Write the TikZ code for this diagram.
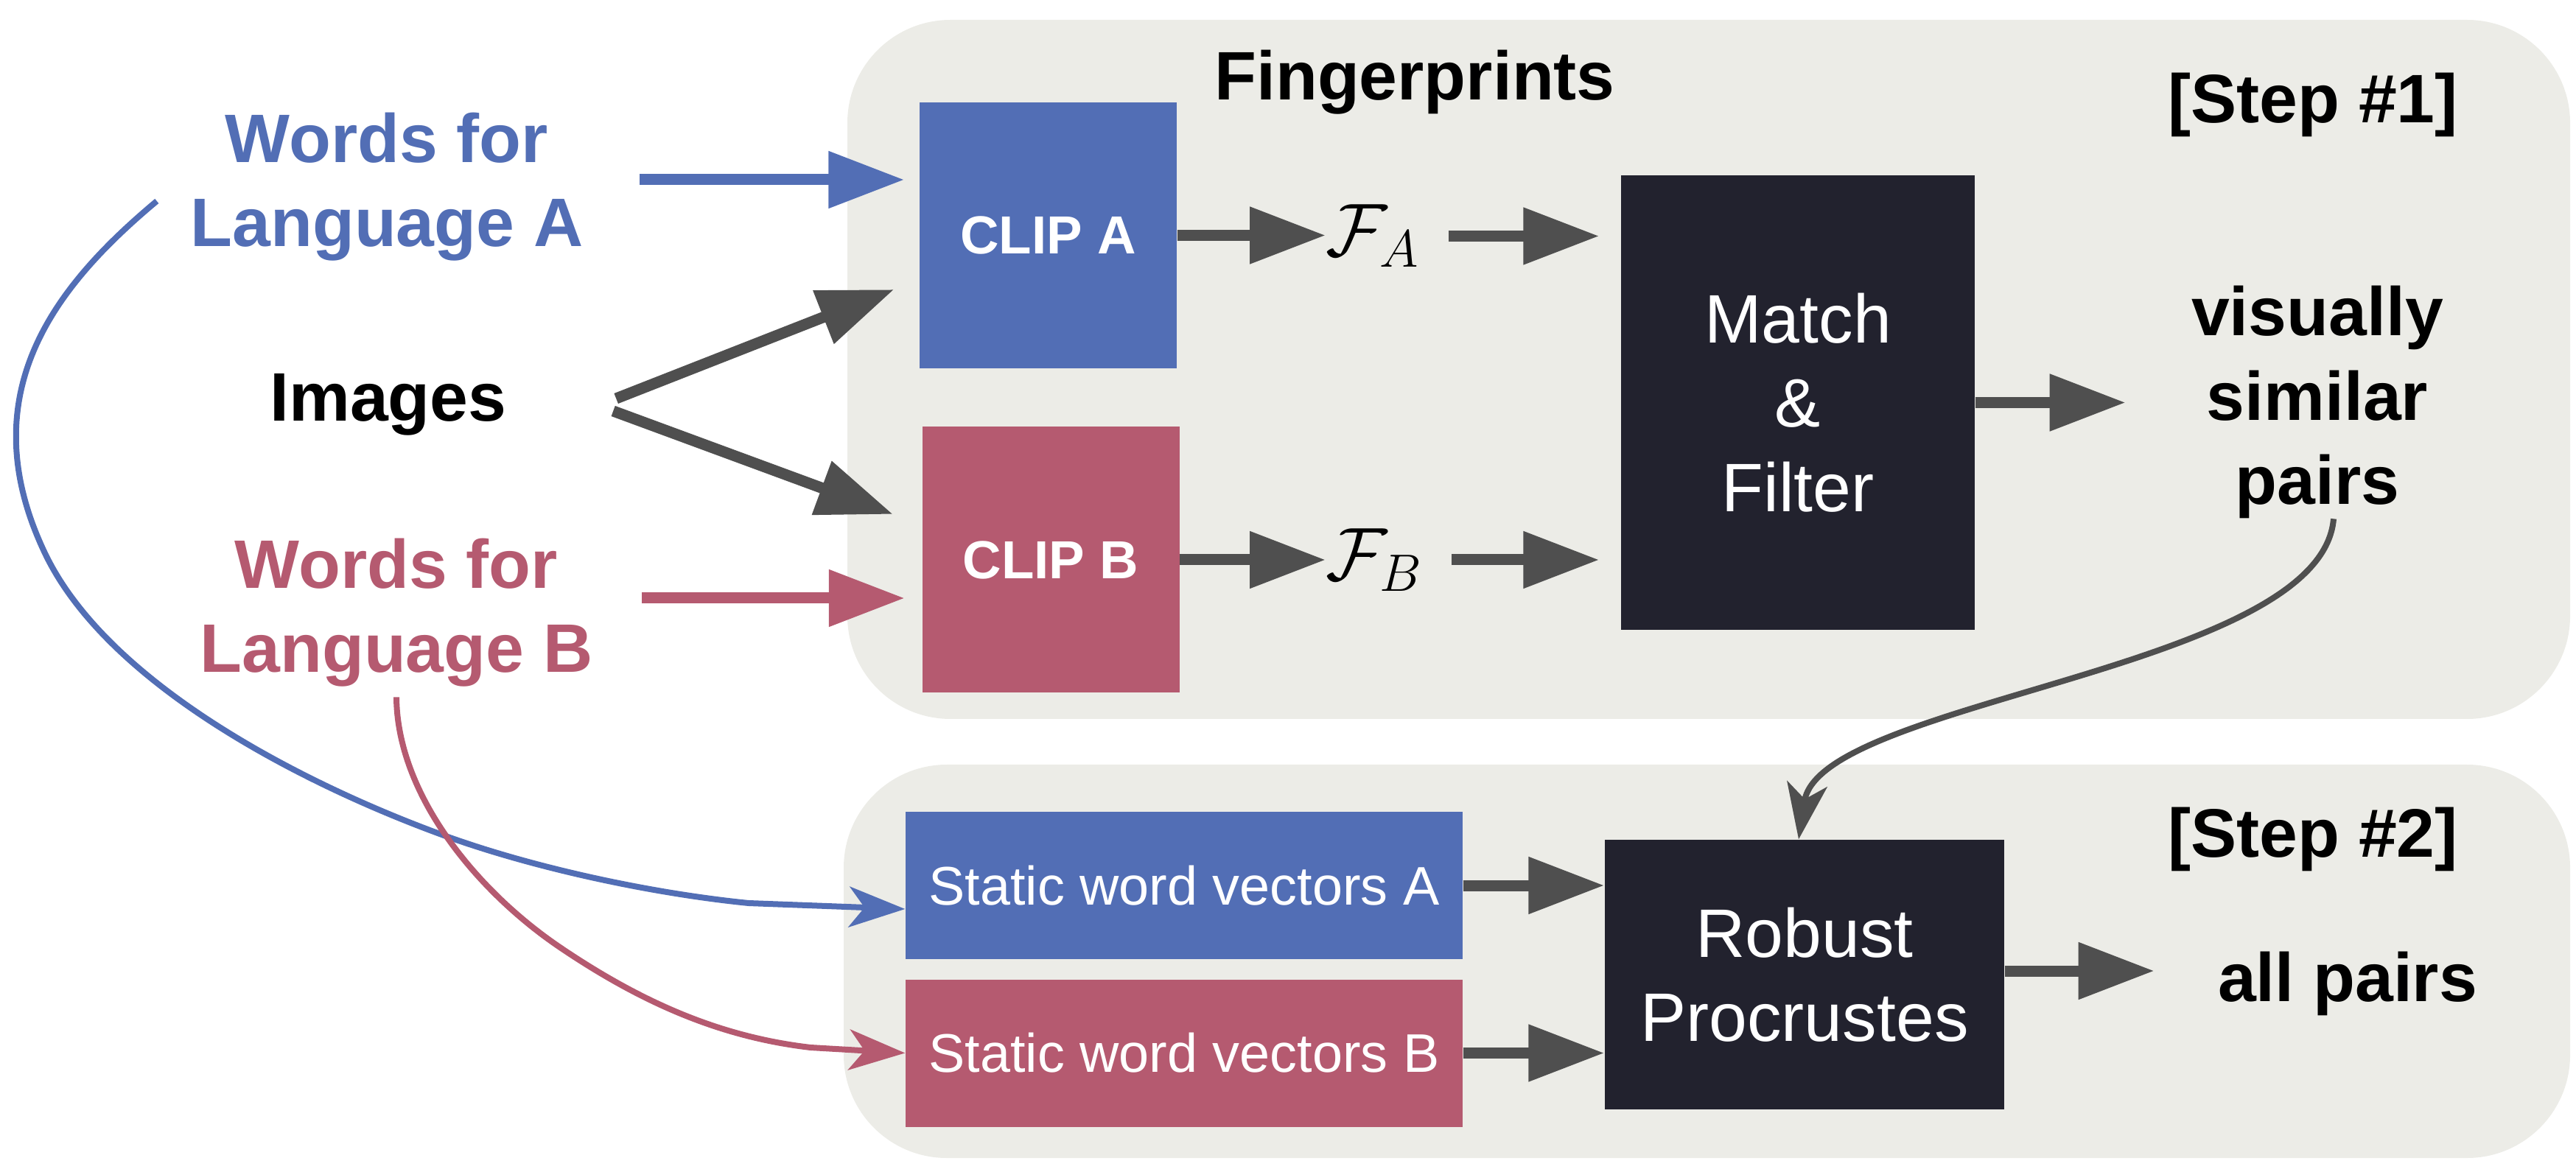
\documentclass[tikz,border=0pt]{standalone}
\usepackage{fix-cm}
\usepackage{fontspec}
\setmainfont{Liberation Sans}
\usetikzlibrary{arrows.meta}

\definecolor{clipblue}{RGB}{82,110,181}
\definecolor{clippink}{RGB}{181,90,112}
\definecolor{boxdark}{RGB}{34,34,46}
\definecolor{arrgray}{RGB}{79,79,79}
\definecolor{panelgray}{RGB}{236,236,231}

\tikzset{
  label/.style={font=\fontsize{26.5}{32.5}\selectfont\bfseries, align=center, inner sep=0},
  clip/.style={font=\fontsize{20.7}{25}\selectfont\bfseries, text=white, inner sep=0, minimum width=3.49cm, minimum height=3.61cm},
  vec/.style={font=\fontsize{21}{25}\selectfont, text=white, inner sep=0, minimum width=7.56cm, minimum height=2cm},
  dark/.style={fill=boxdark, font=\fontsize{26.5}{32.5}\selectfont, text=white, align=center, inner sep=0},
  arr/.style={arrgray, line width=1.5mm, -{Triangle[length=10.3mm, width=7.4mm]}},
  curv/.style={line width=0.8mm, -{Stealth[length=7.6mm, width=5.5mm, inset=2.1mm]}}
}

\begin{document}
\begin{tikzpicture}
\useasboundingbox (0, 0) rectangle (34.96, 15.9);

\fill[panelgray, rounded corners=1.4cm] (11.5, 6.14) rectangle (34.88, 15.63);
\fill[panelgray, rounded corners=1.4cm] (11.45, 0.18) rectangle (34.88, 5.52);

\node[label, text=clipblue] (wordsA) at (5.25, 13.36) {Words for\\Language A};
\node[label] (images) at (5.27, 10.41) {Images};
\node[label, text=clippink] (wordsB) at (5.38, 7.58) {Words for\\Language B};
\node[label] (fingerprints) at (19.2, 14.785) {Fingerprints};
\node[label] (step1) at (31.39, 14.48) {[Step \#1]};
\node[label] (step2) at (31.39, 4.505) {[Step \#2]};
\node[label] (visually) at (31.45, 10.44) {visually\\similar\\pairs};
\node[label] (allpairs) at (31.86, 2.55) {all pairs};

\node[clip, fill=clipblue] (clipA) at (14.225, 12.705) {CLIP A};
\node[clip, fill=clippink] (clipB) at (14.26, 8.3) {CLIP B};
\node[inner sep=0, anchor=west] (fA) at (17.99, 12.695) {\fontsize{29}{34}\selectfont$\mathcal{F}_A$};
\node[inner sep=0, anchor=west] (fB) at (17.99, 8.3) {\fontsize{29}{34}\selectfont$\mathcal{F}_B$};
\node[dark, minimum width=4.8cm, minimum height=6.17cm] (match) at (24.4, 10.435) {Match\\\&\\Filter};

\node[vec, fill=clipblue] (swvA) at (16.07, 3.88) {Static word vectors A};
\node[vec, fill=clippink] (swvB) at (16.07, 1.605) {Static word vectors B};
\node[dark, minimum width=5.42cm, minimum height=3.66cm] (robust) at (24.49, 2.67) {Robust\\Procrustes};

\draw[arr, clipblue] ([shift={(0.76, 0.1)}]wordsA.east) -- ([shift={(-0.2, 0.755)}]clipA.west);
\draw[arr, clippink] ([shift={(0.66, 0.2)}]wordsB.east) -- ([shift={(-0.23, -0.52)}]clipB.west);
\draw[arr] ([shift={(1.48, 0.08)}]images.east) -- ([shift={(-0.34, -0.735)}]clipA.west);
\draw[arr] ([shift={(1.44, -0.09)}]images.east) -- ([shift={(-0.39, 0.62)}]clipB.west);

\draw[arr] (clipA.east) -- (clipA.east -| fA.west);
\draw[arr] (clipB.east) -- (clipB.east -| fB.west);
\draw[arr] ([xshift=3.8mm]fA.east) -- ([xshift=-2.9mm]match.west |- fA.east);
\draw[arr] ([xshift=3.8mm]fB.east) -- ([xshift=-2.9mm]match.west |- fB.east);
\draw[arr] (match.east) -- ++(2.04, 0);

\draw[arr] (swvA.east) -- (swvA.east -| robust.west);
\draw[arr] (swvB.east) -- (swvB.east -| robust.west);
\draw[arr] ([yshift=0.5mm]robust.east) -- ++(2.03, 0);

\draw[curv, arrgray] ([xshift=2.2mm]visually.south) .. controls (31.5, 6.8) and (24.7, 6.4) .. ([xshift=-0.8mm]robust.north);
\draw[curv, clipblue] ([shift={(-0.45, -0.19)}]wordsA.west) .. controls (0.75, 12.02) and (-0.42, 10.55) .. (0.61, 8.39)
  .. controls (1.47, 6.59) and (4.17, 5.23) .. (6.05, 4.55)
  .. controls (7.27, 4.11) and (8.86, 3.77) .. (10.16, 3.64) -- ([yshift=-3.2mm]swvA.west);
\draw[curv, clippink] ([yshift=-1.3mm]wordsB.south) .. controls (5.39, 5.15) and (6.42, 3.85) .. (7.57, 3.06)
  .. controls (8.73, 2.27) and (9.8, 1.82) .. (11, 1.68) -- (swvB.west);

\end{tikzpicture}
\end{document}
